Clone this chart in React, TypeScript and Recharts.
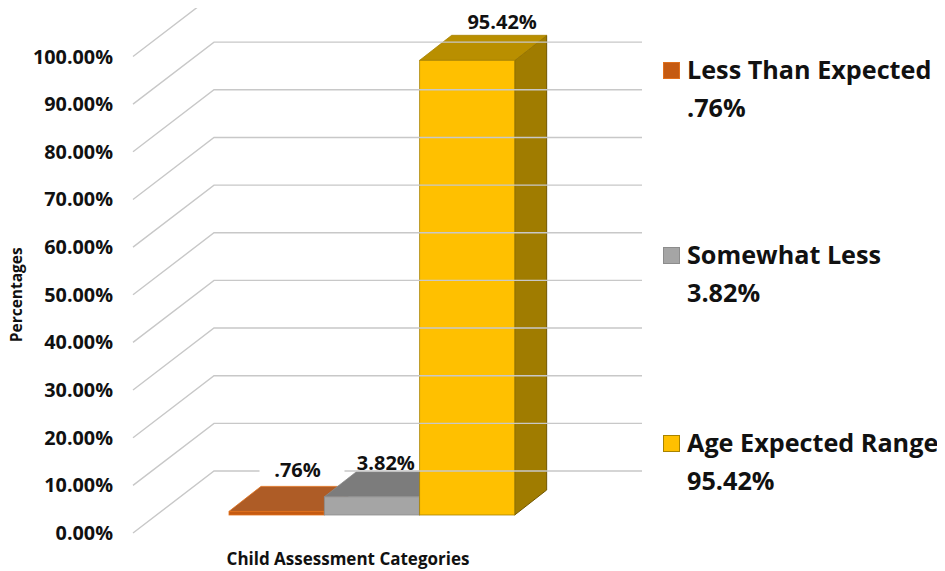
import { BarChart, Bar, XAxis, YAxis, Legend, LabelList } from 'recharts';

const categories = ['Less Than Expected', 'Somewhat Less', 'Age Expected Range'];
const values = [0.76, 3.82, 95.42];
const valueLabels = ['.76%', '3.82%', '95.42%'];
const yTicks = [0, 10, 20, 30, 40, 50, 60, 70, 80, 90, 100];

const fronts = ['#C55A11', '#A5A5A5', '#FFC000'];
const tops = ['#AE5C26', '#7C7C7C', '#B98F00'];
const sides = ['#8A4510', '#6E6E6E', '#A07C00'];
const edges = ['#E0701C', '#8C8C8C', '#A88300'];
const darkEdges = ['#7A3C0C', '#5E5E5E', '#705600'];

const FONT = '"Open Sans", sans-serif';
const DEPTH_X = 32;
const DEPTH_Y = 25;

const data = categories.map((name, i) => ({ name, value: values[i], label: valueLabels[i] }));

const pts = (list: number[][]) => list.map((p) => p.join(',')).join(' ');

const Box3D = (props: any) => {
  const { x, y, width, height, index } = props;
  const r = x + width;
  const b = y + height;
  return (
    <g>
      <polygon points={pts([[r, y], [r + DEPTH_X, y - DEPTH_Y], [r + DEPTH_X, b - DEPTH_Y], [r, b]])} fill={sides[index]} stroke={darkEdges[index]} strokeWidth={1} />
      <polygon points={pts([[x, y], [x + DEPTH_X, y - DEPTH_Y], [r + DEPTH_X, y - DEPTH_Y], [r, y]])} fill={tops[index]} stroke={edges[index]} strokeWidth={0.8} />
      <rect x={x} y={y} width={width} height={height} fill={fronts[index]} stroke={edges[index]} strokeWidth={0.8} />
    </g>
  );
};

// tick label sits on the front edge, the grid line runs back along the side wall
const WallTick = (props: any) => {
  const { y, payload } = props;
  return (
    <g>
      <g clipPath="url(#wallClip)">
        <polyline points={pts([[133, y + 18], [214, y - 44], [642, y - 44]])} fill="none" stroke="#C8C8C8" strokeWidth={1.4} />
      </g>
      <text x={113} y={y + 18} dy={7} textAnchor="end" fontFamily={FONT} fontSize={19.8} fontWeight={700} fill="#111">
        {payload.value.toFixed(2) + '%'}
      </text>
    </g>
  );
};

const labelShift = [
  [21, -41],
  [14, -34],
  [35, -38],
];

const ValueLabel = (props: any) => {
  const { x, y, width, index } = props;
  const cx = x + width / 2 + labelShift[index][0];
  const cy = y + labelShift[index][1];
  return (
    <g>
      {index === 0 && <rect x={cx - 38} y={cy - 11} width={85} height={17} fill="#fff" />}
      <text x={cx} y={cy} dy={7} textAnchor="middle" fontFamily={FONT} fontSize={20} fontWeight={700} fill="#111">
        {valueLabels[index]}
      </text>
    </g>
  );
};

const legendTops = [51, 236, 424];

const LegendBlock = () => (
  <div style={{ position: 'relative', fontFamily: FONT, fontWeight: 700, fontSize: 25.2, lineHeight: '37.5px', color: '#111' }}>
    {categories.map((name, i) => (
      <div key={name} style={{ position: 'absolute', left: 0, top: legendTops[i], whiteSpace: 'nowrap' }}>
        <span style={{ position: 'absolute', left: 0, top: 11, width: 17, height: 17, background: fronts[i], border: '1px solid ' + edges[i], boxSizing: 'border-box' }} />
        <div style={{ marginLeft: 24 }}>{name}</div>
        <div style={{ marginLeft: 24 }}>{valueLabels[i]}</div>
      </div>
    ))}
  </div>
);

const App = () => {
  return (
    <div style={{ margin: '-8px 0 0 -8px', width: 945, height: 571, background: '#fff' }}>
      <BarChart width={945} height={571} data={data} barCategoryGap={0} margin={{ top: 38.5, right: 430, bottom: 0, left: 0 }}>
        <defs>
          <clipPath id="wallClip">
            <rect x={0} y={8} width={945} height={563} />
          </clipPath>
        </defs>
        <XAxis
          dataKey="name"
          height={56}
          tick={false}
          tickLine={false}
          axisLine={false}
          label={{ value: 'Child Assessment Categories', position: 'insideBottom', offset: 6, dx: -24, style: { fontFamily: FONT, fontSize: 17, fontWeight: 700, fill: '#111' } }}
        />
        <YAxis
          domain={[0, 100]}
          ticks={yTicks}
          width={229}
          interval={0}
          tickLine={false}
          axisLine={false}
          tick={<WallTick />}
          label={{ value: 'Percentages', angle: -90, position: 'center', dx: -98, dy: 18, style: { fontFamily: FONT, fontSize: 15.5, fontWeight: 700, fill: '#111', textAnchor: 'middle' } }}
        />
        <Legend layout="horizontal" align="center" verticalAlign="middle" wrapperStyle={{ position: 'absolute', left: 663, top: 0, width: 282, height: 0, right: 'auto', bottom: 'auto' }} content={<LegendBlock />} />
        <Bar dataKey="value" isAnimationActive={false} shape={<Box3D />}>
          <LabelList dataKey="label" content={<ValueLabel />} />
        </Bar>
      </BarChart>
    </div>
  );
};

export default App;
